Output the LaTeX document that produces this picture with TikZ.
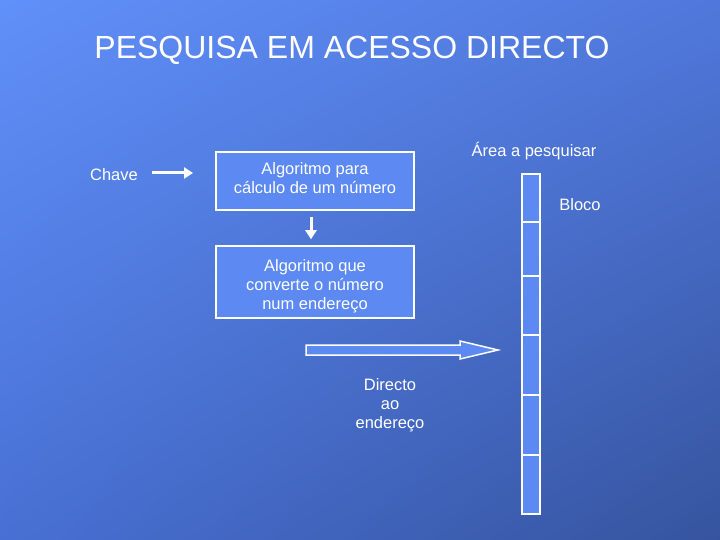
\documentclass[tikz,border=0pt]{standalone}
\usepackage{fontspec}
\setmainfont{Liberation Sans}
\usetikzlibrary{arrows.meta,shadings}

\definecolor{bgtl}{RGB}{96,144,249}
\definecolor{bgtr}{RGB}{80,120,220}
\definecolor{bgbl}{RGB}{72,112,212}
\definecolor{bgbr}{RGB}{54,84,158}
\definecolor{boxfill}{RGB}{92,138,242}

\tikzset{
  algbox/.style={draw=white, line width=1.5pt, fill=boxfill, text=white,
    align=center, minimum width=198pt, inner sep=0pt},
  lbl/.style={text=white, align=center, font=\fontsize{16.5}{19}\selectfont},
  wire/.style={draw=white, line width=3pt, -{Triangle[length=9pt,width=11pt]}},
}

\begin{document}
\begin{tikzpicture}[x=1pt, y=-1pt]
  % Background with diagonal shading.
  \shade[upper left=bgtl, upper right=bgtr, lower left=bgbl, lower right=bgbr]
    (0,0) rectangle (720,540);
  \useasboundingbox (0,0) rectangle (720,540);
  % Title.
  \node[text=white, font=\fontsize{32}{36}\selectfont] (title) at (352,50) {PESQUISA EM ACESSO DIRECTO};
  % Left: key and the two algorithm boxes.
  \node[lbl] (chave) at (114,175) {Chave};
  \node[algbox, lbl, minimum height=58pt, text depth=6.5pt] (calc) at (315,181) {Algoritmo para\\cálculo de um número};
  \node[algbox, lbl, minimum height=72pt, text height=58pt] (conv) at (315,282) {Algoritmo que\\converte o número\\num endereço};
  \coordinate (chaveend) at (152,173);
  \coordinate (calcin) at (193,173);
  \draw[wire] (chaveend) -- (calcin);
  \draw[wire] ([xshift=-4pt,yshift=-6pt]calc.south) -- ([xshift=-4pt,yshift=6pt]conv.north);
  % Block arrow straight to the address.
  \filldraw[draw=white, line width=1.5pt, fill=boxfill]
    (306,345) -- (460,345) -- (460,341) -- (498,350) -- (460,359) -- (460,355) -- (306,355) -- cycle;
  \node[lbl] (directo) at (390,405) {Directo\\ao\\endereço};
  % Right: the area split in blocks.
  \node[lbl] (area) at (534,151) {Área a pesquisar};
  \node[lbl] (bloco) at (580,205) {Bloco};
  \foreach \ya/\yb [count=\i] in {174/222, 222/276, 276/335, 335/395, 395/455, 455/514}
    \node[draw=white, line width=1.5pt, fill=boxfill, minimum width=18pt,
      minimum height=\yb-\ya, inner sep=0pt] (blk\i) at (531,{(\ya+\yb)/2}) {};
\end{tikzpicture}
\end{document}
